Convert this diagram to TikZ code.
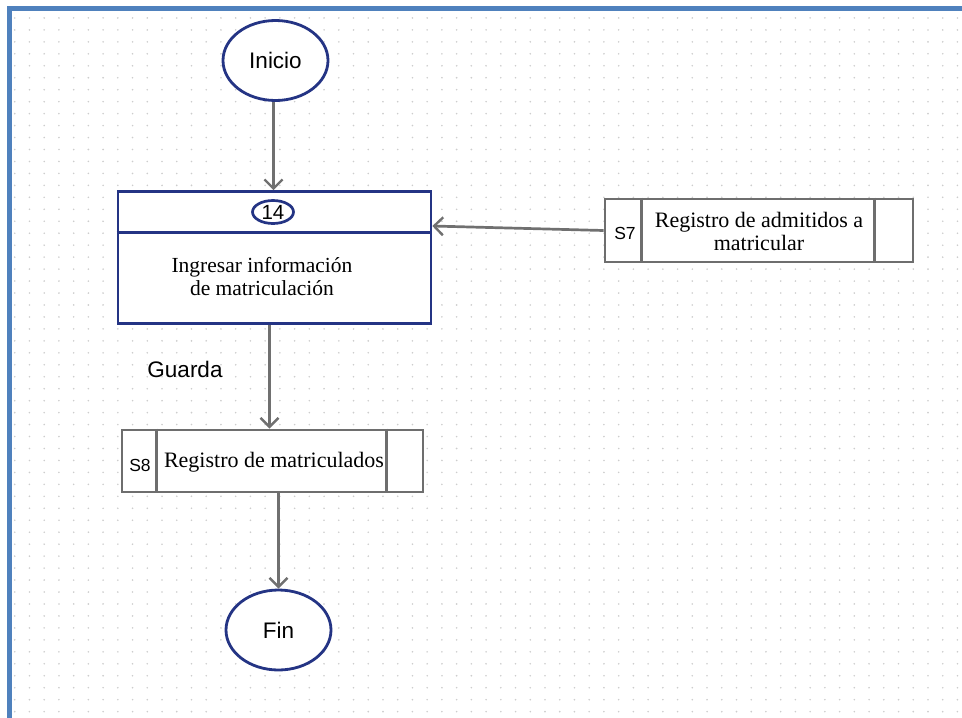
\documentclass[tikz,border=0pt]{standalone}
\usepackage{fontspec}
\setmainfont{Liberation Serif}
\newfontfamily\arialf{Liberation Sans}
\usetikzlibrary{arrows.meta,shapes.geometric,calc}
\definecolor{navy}{RGB}{36,52,132}
\definecolor{arrgray}{RGB}{112,112,112}
\definecolor{boxgray}{RGB}{110,110,110}
\definecolor{frameblue}{RGB}{79,129,189}
\definecolor{dotgray}{RGB}{205,205,205}
\begin{document}
\begin{tikzpicture}[x=1pt,y=-1pt,
  term/.style={ellipse,draw=navy,line width=2.8pt,fill=white,minimum width=105pt,minimum height=80pt,inner sep=0pt,font=\arialf\fontsize{22.5}{26}\selectfont},
  procbox/.style={rectangle,draw=navy,line width=2.7pt,fill=white,minimum width=313pt,minimum height=132pt,inner sep=0pt},
  storebox/.style={rectangle,draw=boxgray,line width=2.8pt,fill=white,inner sep=0pt},
  serif/.style={font=\fontsize{22}{23}\selectfont,align=center,inner sep=0pt},
  sans/.style={font=\arialf\fontsize{17.5}{20}\selectfont,inner sep=0pt},
  arr/.style={draw=arrgray,line width=2.7pt,-{Straight Barb[length=9pt,width=18pt,line width=2.4pt]}}
]
\useasboundingbox (0,0) rectangle (962,718);
% dotted background
\begin{scope}
\clip (12,11) rectangle (962,718);
\foreach \i in {1,...,65}{
  \foreach \j in {0,...,59}{
    \fill[dotgray] (\i*14.73,5.98+\j*11.96) circle (0.9);
  }
}
\end{scope}
% frame
\draw[frameblue,line width=5pt] (9.5,725) -- (9.5,8.5) -- (970,8.5);

% nodes
\node[term] (inicio) at (275.5,60.5) {Inicio};
\node[procbox] (proc) at (274.5,257.5) {};
\draw[navy,line width=2.7pt] ($(proc.north west)+(0,42.5)$) coordinate (dl) -- (dl -| proc.east);
\node[ellipse,draw=navy,line width=2.7pt,minimum width=41pt,minimum height=23pt,inner sep=0pt,font=\arialf\fontsize{20.5}{22}\selectfont] (num) at (273,212) {14};
\node[serif,font=\fontsize{21.5}{23}\selectfont,align=center] (ptext) at (262,277) {Ingresar información\\de matriculación};

\node[storebox,minimum width=308pt,minimum height=63pt] (s7) at (759,230.5) {};
\draw[boxgray,line width=2.8pt] ($(s7.north west)+(38,0)$) coordinate (a7) -- (a7 |- s7.south);
\draw[boxgray,line width=2.8pt] ($(s7.north east)+(-40,0)$) coordinate (b7) -- (b7 |- s7.south);
\node[sans] (s7l) at (625,233) {S7};
\node[serif] (s7t) at (759,231) {Registro de admitidos a\\matricular};

\node[storebox,minimum width=301pt,minimum height=62pt] (s8) at (272.5,461) {};
\draw[boxgray,line width=2.8pt] ($(s8.north west)+(36,0)$) coordinate (a8) -- (a8 |- s8.south);
\draw[boxgray,line width=2.8pt] ($(s8.north east)+(-38,0)$) coordinate (b8) -- (b8 |- s8.south);
\node[sans] (s8l) at (140,465) {S8};
\node[serif] (s8t) at (274,462) {Registro de matriculados};

\node[term] (fin) at (278.5,630) {Fin};

\node[font=\arialf\fontsize{22.5}{26}\selectfont,inner sep=0pt] (guarda) at (185,369) {Guarda};

% connectors
\draw[arr] ([xshift=-2pt]inicio.south) -- ([xshift=-2pt]inicio.south |- proc.north);
\draw[arr] (s7.west) -- ([yshift=31.5pt]proc.east);
\draw[arr] ([xshift=-5pt]proc.south) -- ([xshift=-5pt]proc.south |- s8.north);
\draw[arr] (fin.north |- s8.south) -- (fin.north);
\end{tikzpicture}
\end{document}
